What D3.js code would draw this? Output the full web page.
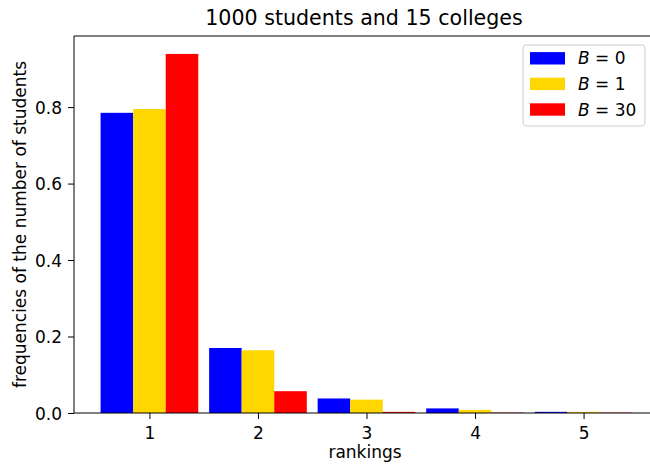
<!DOCTYPE html>
<html><head><meta charset="utf-8">
<script src="https://cdn.jsdelivr.net/npm/d3@7"></script>
<style>body{margin:0;background:#fff}svg text{font-family:"DejaVu Sans",sans-serif;fill:#000}</style>
</head><body><svg id="c" width="650" height="465"></svg>
<script>
const rankings = [1, 2, 3, 4, 5];
const seriesNames = ["0", "1", "30"];
const seriesColors = ["#0000ff", "#ffd700", "#ff0000"];
const valuesB0 = [0.785, 0.170, 0.038, 0.012, 0.003];
const valuesB1 = [0.795, 0.164, 0.035, 0.008, 0.003];
const valuesB30 = [0.939, 0.057, 0.003, 0.001, 0.001];
const yTicks = [0.0, 0.2, 0.4, 0.6, 0.8];
const series = [valuesB0, valuesB1, valuesB30];

(function () {
const svg = d3.select("#c");
const mLeft = 74, mRight = 659, mTop = 36, mBottom = 413;
const x = d3.scaleLinear().domain([0.305, 5.695]).range([mLeft, mRight]);
const y = d3.scaleLinear().domain([0, 0.9859]).range([mBottom, mTop]);
const bw = 0.3;

series.forEach((vals, si) => {
  svg.append("g").selectAll("rect").data(vals).enter().append("rect")
    .attr("x", (d, i) => x(rankings[i] + (si - 1) * bw - bw / 2))
    .attr("width", (d, i) => x(rankings[i] + bw / 2) - x(rankings[i] - bw / 2))
    .attr("y", d => y(d))
    .attr("height", d => y(0) - y(d))
    .attr("fill", seriesColors[si]);
});

const xAxis = d3.axisBottom(x).tickValues(rankings).tickFormat(d3.format("d")).tickSize(6).tickPadding(6);
const gx = svg.append("g").attr("transform", `translate(0,${mBottom})`).call(xAxis);
gx.attr("font-size", 17).attr("font-family", "DejaVu Sans");
gx.select(".domain").remove();
gx.selectAll("text").attr("font-size", 17).style("font-size", "17px").attr("fill", "#000").attr("dy", "0.8em");
const yAxis = d3.axisLeft(y).tickValues(yTicks).tickFormat(d3.format(".1f")).tickSize(6).tickPadding(6);
const gy = svg.append("g").attr("transform", `translate(${mLeft},0)`).call(yAxis);
gy.attr("font-size", 17).attr("font-family", "DejaVu Sans");
gy.select(".domain").remove();
gy.selectAll("text").attr("font-size", 17).style("font-size", "17px").attr("fill", "#000").attr("dy", "0.36em");
svg.selectAll(".tick line").attr("stroke", "#000").attr("stroke-width", 1);

svg.append("line").attr("x1", mLeft).attr("x2", mLeft).attr("y1", mTop).attr("y2", mBottom).attr("stroke", "#000").attr("stroke-width", 1);
svg.append("line").attr("x1", mLeft).attr("x2", 650).attr("y1", mBottom).attr("y2", mBottom).attr("stroke", "#000").attr("stroke-width", 1);
svg.append("line").attr("x1", mLeft).attr("x2", 650).attr("y1", mTop).attr("y2", mTop).attr("stroke", "#000").attr("stroke-width", 1);

svg.append("text").attr("x", 364).attr("y", 25).attr("text-anchor", "middle").style("font-size", "20.6px").text("1000 students and 15 colleges");
svg.append("text").attr("x", 365).attr("y", 458).attr("text-anchor", "middle").style("font-size", "17px").text("rankings");
svg.append("text").attr("transform", "translate(26,224.5) rotate(-90)").attr("text-anchor", "middle").style("font-size", "17px").text("frequencies of the number of students");

const lg = svg.append("g");
lg.append("rect").attr("x", 523).attr("y", 45).attr("width", 122).attr("height", 81).attr("rx", 3)
  .attr("fill", "#fff").attr("fill-opacity", 0.8).attr("stroke", "#cccccc");
seriesNames.forEach((n, i) => {
  const cy = 58.3 + i * 25.6;
  lg.append("rect").attr("x", 530).attr("y", cy - 6.2).attr("width", 35).attr("height", 12.4).attr("fill", seriesColors[i]);
  const t = lg.append("text").attr("x", 578).attr("y", cy + 6).style("font-size", "17px");
  t.append("tspan").style("font-style", "italic").text("B");
  t.append("tspan").text(" = " + n);
});
})();
</script></body></html>
